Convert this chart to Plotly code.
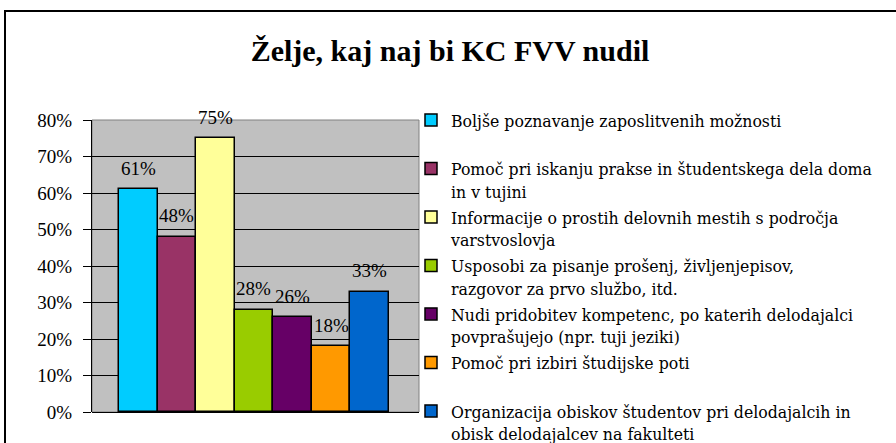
import plotly.graph_objects as go

# ---- data ----
categories = [
    "Boljše poznavanje zaposlitvenih možnosti",
    "Pomoč pri iskanju prakse in študentskega dela doma<br>in v tujini",
    "Informacije o prostih delovnih mestih s področja<br>varstvoslovja",
    "Usposobi za pisanje prošenj, življenjepisov,<br>razgovor za prvo službo, itd.",
    "Nudi pridobitev kompetenc, po katerih delodajalci<br>povprašujejo (npr. tuji jeziki)",
    "Pomoč pri izbiri študijske poti",
    "Organizacija obiskov študentov pri delodajalcih in<br>obisk delodajalcev na fakulteti",
]
values = [0.61, 0.48, 0.75, 0.28, 0.26, 0.18, 0.33]
colors = ["#00CCFF", "#993366", "#FFFF99", "#99CC00", "#660066", "#FF9900", "#0066CC"]
title_text = "Želje, kaj naj bi KC FVV nudil"

W, H = 896, 443
# plot area in pixels
PL, PR, PT, PB = 92, 419, 120, 412
pw, ph = PR - PL, PB - PT

def px_x(x):
    return (x - PL) / pw

def px_y(y):
    return (PB - y) / ph

FONT = "Liberation Serif, Times New Roman, serif"
LEG_FONT = "DejaVu Serif Condensed, DejaVu Serif, serif"

fig = go.Figure()
for i, (name, v, c) in enumerate(zip(categories, values, colors)):
    label = name if "<br>" in name else name + "<br> "
    fig.add_trace(go.Bar(
        x=[i], y=[v], width=[1], name=label,
        marker=dict(color=c, line=dict(color="black", width=1.5)),
        hoverinfo="skip",
    ))
    fig.add_annotation(
        x=i, y=v, text=f"{v:.0%}", showarrow=False, yshift=21,
        font=dict(family=FONT, size=19, color="black"),
    )

# plot area border (gray)
fig.add_shape(type="rect", xref="paper", yref="paper", x0=0, x1=1, y0=0, y1=1,
              line=dict(color="#808080", width=1), layer="below")
# outer chart border
fig.add_shape(type="rect", xref="paper", yref="paper",
              x0=px_x(5), x1=px_x(905), y0=px_y(452), y1=px_y(11),
              line=dict(color="black", width=2))

fig.update_layout(
    width=W, height=H,
    margin=dict(l=PL, r=W - PR, t=PT, b=H - PB, pad=0, autoexpand=False),
    paper_bgcolor="white", plot_bgcolor="#C0C0C0",
    barmode="overlay", bargap=0,
    title=dict(text=f"<b>{title_text}</b>", x=450 / W, xanchor="center",
               y=1 - 50 / H, yanchor="middle",
               font=dict(family=FONT, size=30, color="black")),
    showlegend=True,
    legend=dict(x=px_x(411), y=px_y(102), xanchor="left", yanchor="top",
                font=dict(family=LEG_FONT, size=17.5, color="black"),
                valign="top", bgcolor="rgba(0,0,0,0)", itemclick=False,
                tracegroupgap=0, maxheight=1),
    xaxis=dict(range=[-1.2, 7.28], showticklabels=False, showgrid=False,
               zeroline=False, ticks="", fixedrange=True),
    yaxis=dict(range=[0, 0.8], dtick=0.1, tickformat=".0%",
               showgrid=True, gridcolor="black", gridwidth=1,
               zeroline=True, zerolinecolor="black", zerolinewidth=1,
               showline=True, linecolor="black", linewidth=1,
               ticks="outside", ticklen=8, tickcolor="black",
               tickfont=dict(family=FONT, size=19, color="black"),
               ticklabelstandoff=7, fixedrange=True),
)

fig.write_html(
    "out.html",
    config={"displayModeBar": False},
    post_script="document.body.style.margin='0';document.body.style.overflow='hidden';",
)
